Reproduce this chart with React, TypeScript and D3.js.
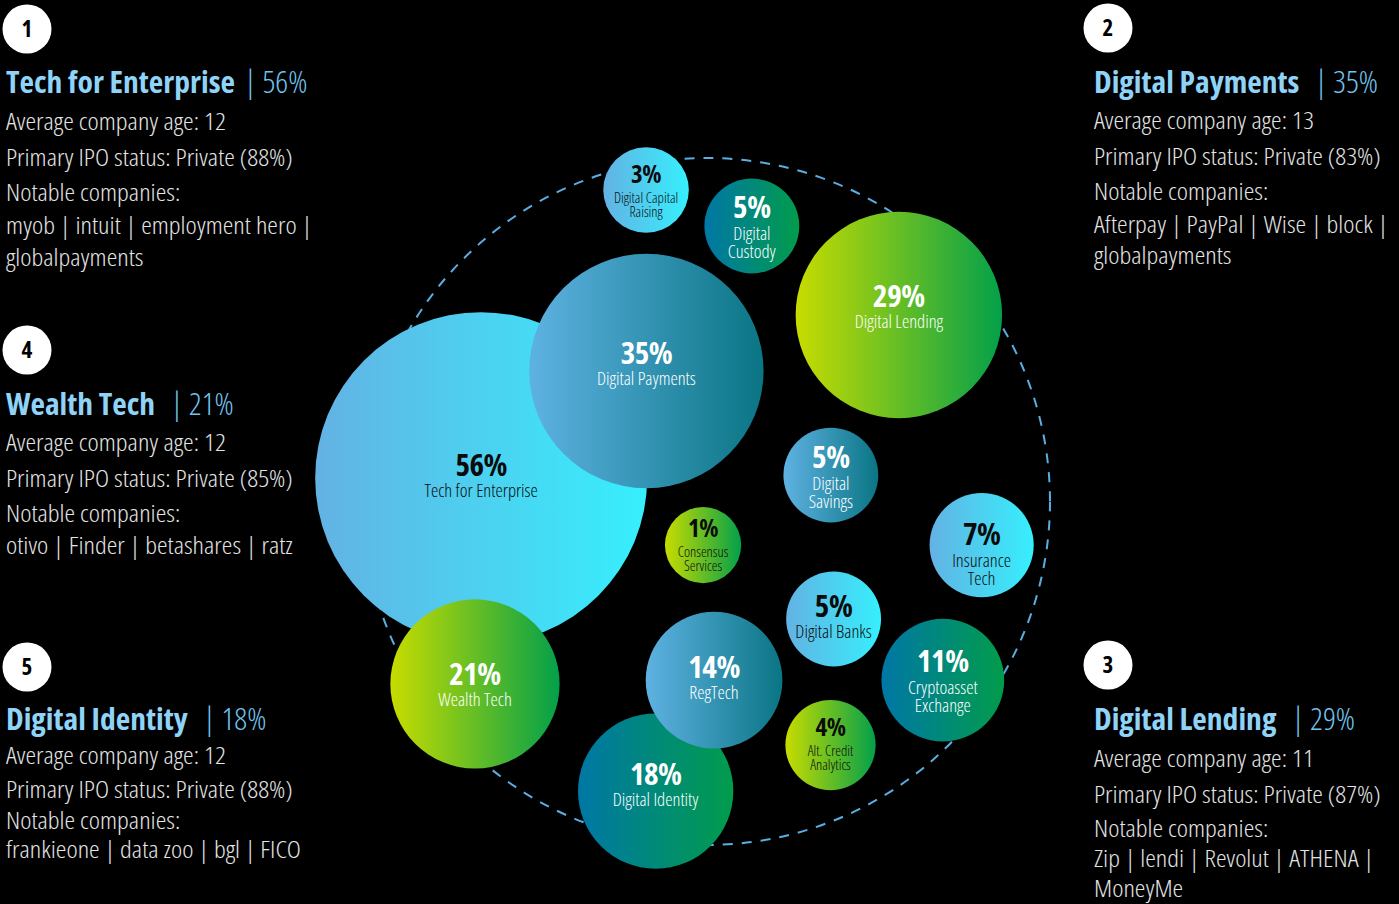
import React from "react";
import * as d3 from "d3";

// ---------- DATA ----------
const categories = [
  "Tech for Enterprise", "Digital Payments", "Digital Lending", "Digital Capital Raising",
  "Digital Custody", "Digital Savings", "Consensus Services", "Insurance Tech",
  "Digital Banks", "Wealth Tech", "RegTech", "Digital Identity",
  "Alt. Credit Analytics", "Cryptoasset Exchange",
];
const shares = [56, 35, 29, 3, 5, 5, 1, 7, 5, 21, 14, 18, 4, 11];
const bubbleLabelLines = [
  ["Tech for Enterprise"], ["Digital Payments"], ["Digital Lending"], ["Digital Capital", "Raising"],
  ["Digital", "Custody"], ["Digital", "Savings"], ["Consensus", "Services"], ["Insurance", "Tech"],
  ["Digital Banks"], ["Wealth Tech"], ["RegTech"], ["Digital Identity"],
  ["Alt. Credit", "Analytics"], ["Cryptoasset", "Exchange"],
];

const panelNumbers = [1, 2, 3, 4, 5];
const panelTitles = ["Tech for Enterprise", "Digital Payments", "Digital Lending", "Wealth Tech", "Digital Identity"];
const panelShares = [56, 35, 29, 21, 18];
const panelAges = [12, 13, 11, 12, 12];
const panelPrivateShare = [88, 83, 87, 85, 88];
const panelCompanies = [
  ["myob | intuit | employment hero |", "globalpayments"],
  ["Afterpay | PayPal | Wise | block |", "globalpayments"],
  ["Zip | lendi | Revolut | ATHENA |", "MoneyMe"],
  ["otivo | Finder | betashares | ratz"],
  ["frankieone | data zoo | bgl | FICO"],
];

// ---------- LAYOUT / STYLE (separate from data) ----------
const W = 1399, H = 904;
const ENC = { cx: 706.5, cy: 501.5, r: 343.5 };
// bubble centres in the enclosure's normalised space [-1, 1]
const bubbleLayout = [
  [-0.656, -0.068], [-0.175, -0.380], [0.560, -0.543], [-0.176, -0.907],
  [0.132, -0.802], [0.362, -0.077], [-0.010, 0.127], [0.801, 0.127],
  [0.370, 0.342], [-0.674, 0.531], [0.022, 0.520], [-0.148, 0.843],
  [0.361, 0.709], [0.688, 0.520],
];
const bubbleTextShift = [1.5, -3, -4, 1, 0, 0.5, -0.5, 8, 2.5, 5, 2, -2.5, -1, 0];
const bubbleTheme = [
  "cyan", "teal", "lime", "cyan", "deep", "teal", "lime", "cyan",
  "cyan", "lime", "teal", "deep", "lime", "deep",
];
const darkText = [true, false, false, true, false, false, true, true, true, false, false, false, true, false];
const drawOrder = [11, 10, 0, 1, 9, 2, 3, 4, 5, 6, 7, 8, 12, 13];

const gradients: Record<string, [string, string]> = {
  cyan: ["#63b2e4", "#36effd"],
  teal: ["#5eb2e2", "#0a7584"],
  lime: ["#c8dc00", "#03a04a"],
  deep: ["#0077a6", "#019c4b"],
};

const panelLayout = [
  { x: 6, bx: 27, by: 29, ty: 93, gap: 9, ly: [130, 166, 201, 234, 266] },
  { x: 1094, bx: 1108, by: 28, ty: 93, gap: 15, ly: [129, 165, 200, 233, 264] },
  { x: 1094, bx: 1108, by: 665, ty: 730, gap: 15, ly: [767, 803, 837, 867, 897] },
  { x: 6, bx: 27, by: 350, ty: 415, gap: 15, ly: [451, 487, 522, 554] },
  { x: 6, bx: 27, by: 667, ty: 730, gap: 15, ly: [764, 798, 829, 858] },
];
const TITLE_SX = 1.036;
const BODY_SX = 1.095;

const FONT = "'Open Sans', 'Noto Sans', sans-serif";
const cond: React.CSSProperties = { fontStretch: "condensed" as any };

export default function App() {
  const xS = d3.scaleLinear().domain([-1, 1]).range([ENC.cx - ENC.r, ENC.cx + ENC.r]);
  const yS = d3.scaleLinear().domain([-1, 1]).range([ENC.cy - ENC.r, ENC.cy + ENC.r]);
  const rS = d3.scaleLinear().domain([0, 56]).range([35.8, 166]);

  return (
    <svg width={W} height={H} viewBox={`0 0 ${W} ${H}`}
      style={{ position: "absolute", left: 0, top: 0, background: "#000", fontFamily: FONT }}>
      <defs>
        {Object.entries(gradients).map(([k, [a, b]]) => (
          <linearGradient key={k} id={`g-${k}`} x1="0" y1="0" x2="1" y2="0">
            <stop offset="0" stopColor={a} />
            <stop offset="1" stopColor={b} />
          </linearGradient>
        ))}
      </defs>
      <rect width={W} height={H} fill="#000" />

      {/* enclosure */}
      <circle cx={ENC.cx} cy={ENC.cy} r={ENC.r} fill="none" stroke="#5aaee4"
        strokeWidth={2} strokeDasharray="10 9" />

      {/* bubbles */}
      {drawOrder.map((i) => {
        const cx = xS(bubbleLayout[i][0]);
        const cy = yS(bubbleLayout[i][1]);
        const r = rS(shares[i]);
        const small = shares[i] < 5;
        const lines = bubbleLabelLines[i];
        const col = darkText[i] ? "#0b0b0b" : "#ffffff";
        const s = bubbleTextShift[i];
        let pctY: number, lineYs: number[];
        if (small) { pctY = -8; lineYs = [12, 26]; }
        else if (lines.length === 2) { pctY = -8; lineYs = [14, 32]; }
        else { pctY = -4; lineYs = [17]; }
        return (
          <g key={categories[i]}>
            <circle cx={cx} cy={cy} r={r} fill={`url(#g-${bubbleTheme[i]})`} />
            <text x={cx} y={cy + pctY + s} textAnchor="middle" fill={col}
              fontWeight={700} fontSize={small ? 25 : 31} style={{ ...cond, letterSpacing: "-0.5px" }}>
              {shares[i]}%
            </text>
            {lines.map((ln, j) => (
              <text key={j} x={cx} y={cy + lineYs[j] + s} textAnchor="middle" fill={col}
                fontWeight={300} fontSize={small ? 14.5 : 18.5} style={cond}>
                {ln}
              </text>
            ))}
          </g>
        );
      })}

      {/* side panels */}
      {panelNumbers.map((n, k) => {
        const L = panelLayout[k];
        const body = [
          `Average company age: ${panelAges[k]}`,
          `Primary IPO status: Private (${panelPrivateShare[k]}%)`,
          "Notable companies:",
          ...panelCompanies[k],
        ];
        return (
          <g key={n}>
            <circle cx={L.bx} cy={L.by} r={24.5} fill="#fff" />
            <text x={L.bx} y={L.by + 8} textAnchor="middle" fontWeight={700} fontSize={23}
              fill="#000" style={cond}>{n}</text>
            <text transform={`translate(${L.x},${L.ty}) scale(${TITLE_SX},1)`} fontSize={30.5} style={cond}>
              <tspan fontWeight={700} fill="#8fd4f8">{panelTitles[k]}</tspan>
              <tspan dx={L.gap} fontWeight={300} fill="#72c4ee">| {panelShares[k]}%</tspan>
            </text>
            {body.map((t, j) => (
              <text key={j} transform={`translate(${L.x},${L.ly[j]}) scale(${BODY_SX},1)`}
                fontSize={24.5} fontWeight={300} fill="#e4e4e4" style={cond}>{t}</text>
            ))}
          </g>
        );
      })}
    </svg>
  );
}
